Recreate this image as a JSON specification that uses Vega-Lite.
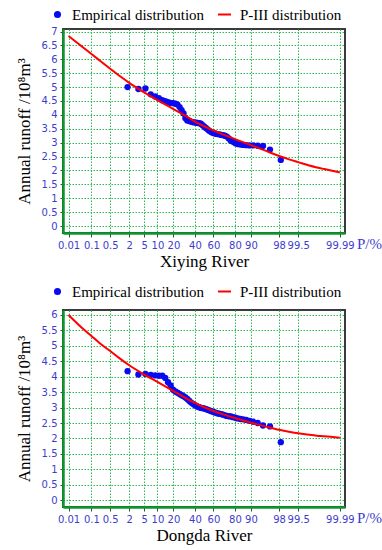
{
  "$schema": "https://vega.github.io/schema/vega-lite/v6.json",
  "background": "white",
  "padding": {"left": 14, "top": 6, "right": 2, "bottom": 4},
  "spacing": 13,
  "config": {
    "view": {"stroke": "#3a3a3a", "strokeWidth": 2},
    "axis": {
      "labelFont": "DejaVu Sans", "labelFontSize": 10, "labelColor": "#3d3dcc",
      "titleFont": "Liberation Serif", "titleFontSize": 17, "titleFontWeight": "normal", "titleColor": "#000000",
      "gridColor": "#2dbb55", "gridDash": [1.5, 1.5], "gridWidth": 1, "gridOpacity": 1,
      "domainColor": "#0a9a2a", "domainWidth": 2.5,
      "tickColor": "#444444", "tickSize": 4, "labelOverlap": false, "labelFlush": false
    },
    "legend": {
      "orient": "none", "direction": "horizontal", "title": null,
      "labelFont": "Liberation Serif", "labelFontSize": 15, "labelColor": "#000000",
      "padding": 0
    }
  },
  "resolve": {"scale": {"color": "independent", "stroke": "independent"}, "legend": {"color": "independent", "stroke": "independent"}},
  "datasets": {
    "emp_xiying": [
      {"m":1,"P":1.79,"z":-2.100,"Q":5.00},{"m":2,"P":3.57,"z":-1.803,"Q":4.93},{"m":3,"P":5.36,"z":-1.611,"Q":4.95},
      {"m":4,"P":7.14,"z":-1.466,"Q":4.74},{"m":5,"P":8.93,"z":-1.345,"Q":4.66},{"m":6,"P":10.71,"z":-1.242,"Q":4.60},
      {"m":7,"P":12.50,"z":-1.150,"Q":4.53},{"m":8,"P":14.29,"z":-1.068,"Q":4.49},{"m":9,"P":16.07,"z":-0.992,"Q":4.46},
      {"m":10,"P":17.86,"z":-0.921,"Q":4.43},{"m":11,"P":19.64,"z":-0.854,"Q":4.42},{"m":12,"P":21.43,"z":-0.792,"Q":4.40},
      {"m":13,"P":23.21,"z":-0.732,"Q":4.37},{"m":14,"P":25.00,"z":-0.674,"Q":4.28},{"m":15,"P":26.79,"z":-0.619,"Q":4.17},
      {"m":16,"P":28.57,"z":-0.566,"Q":4.05},{"m":17,"P":30.36,"z":-0.514,"Q":3.88},{"m":18,"P":32.14,"z":-0.464,"Q":3.80},
      {"m":19,"P":33.93,"z":-0.414,"Q":3.78},{"m":20,"P":35.71,"z":-0.366,"Q":3.76},{"m":21,"P":37.50,"z":-0.319,"Q":3.74},
      {"m":22,"P":39.29,"z":-0.272,"Q":3.73},{"m":23,"P":41.07,"z":-0.226,"Q":3.72},{"m":24,"P":42.86,"z":-0.180,"Q":3.71},
      {"m":25,"P":44.64,"z":-0.135,"Q":3.70},{"m":26,"P":46.43,"z":-0.090,"Q":3.68},{"m":27,"P":48.21,"z":-0.045,"Q":3.63},
      {"m":28,"P":50.00,"z":0.000,"Q":3.58},{"m":29,"P":51.79,"z":0.045,"Q":3.53},{"m":30,"P":53.57,"z":0.090,"Q":3.48},
      {"m":31,"P":55.36,"z":0.135,"Q":3.43},{"m":32,"P":57.14,"z":0.180,"Q":3.39},{"m":33,"P":58.93,"z":0.226,"Q":3.36},
      {"m":34,"P":60.71,"z":0.272,"Q":3.34},{"m":35,"P":62.50,"z":0.319,"Q":3.32},{"m":36,"P":64.29,"z":0.366,"Q":3.31},
      {"m":37,"P":66.07,"z":0.414,"Q":3.30},{"m":38,"P":67.86,"z":0.464,"Q":3.28},{"m":39,"P":69.64,"z":0.514,"Q":3.27},
      {"m":40,"P":71.43,"z":0.566,"Q":3.25},{"m":41,"P":73.21,"z":0.619,"Q":3.22},{"m":42,"P":75.00,"z":0.674,"Q":3.15},
      {"m":43,"P":76.79,"z":0.732,"Q":3.07},{"m":44,"P":78.57,"z":0.792,"Q":3.03},{"m":45,"P":80.36,"z":0.854,"Q":2.98},
      {"m":46,"P":82.14,"z":0.921,"Q":2.95},{"m":47,"P":83.93,"z":0.992,"Q":2.93},{"m":48,"P":85.71,"z":1.068,"Q":2.92},
      {"m":49,"P":87.50,"z":1.150,"Q":2.91},{"m":50,"P":89.29,"z":1.242,"Q":2.90},{"m":51,"P":91.07,"z":1.345,"Q":2.90},
      {"m":52,"P":92.86,"z":1.466,"Q":2.89},{"m":53,"P":94.64,"z":1.611,"Q":2.88},{"m":54,"P":96.43,"z":1.803,"Q":2.75},
      {"m":55,"P":98.21,"z":2.100,"Q":2.38}
    ],
    "p3_xiying": [
      {"P":0.01,"z":-3.719,"Q":6.84},{"P":0.05,"z":-3.291,"Q":6.40},{"P":0.1,"z":-3.090,"Q":6.19},
      {"P":0.2,"z":-2.878,"Q":5.97},{"P":0.5,"z":-2.576,"Q":5.66},{"P":1,"z":-2.326,"Q":5.41},
      {"P":2,"z":-2.054,"Q":5.15},{"P":5,"z":-1.645,"Q":4.81},{"P":10,"z":-1.282,"Q":4.53},
      {"P":20,"z":-0.842,"Q":4.21},{"P":30,"z":-0.524,"Q":3.97},{"P":40,"z":-0.253,"Q":3.76},
      {"P":50,"z":0.000,"Q":3.59},{"P":60,"z":0.253,"Q":3.44},{"P":70,"z":0.524,"Q":3.29},
      {"P":80,"z":0.842,"Q":3.13},{"P":90,"z":1.282,"Q":2.91},{"P":95,"z":1.645,"Q":2.73},
      {"P":98,"z":2.054,"Q":2.52},{"P":99,"z":2.326,"Q":2.40},{"P":99.5,"z":2.576,"Q":2.30},
      {"P":99.8,"z":2.878,"Q":2.18},{"P":99.9,"z":3.090,"Q":2.11},{"P":99.95,"z":3.291,"Q":2.05},
      {"P":99.99,"z":3.719,"Q":1.93}
    ],
    "emp_dongda": [
      {"m":1,"P":1.79,"z":-2.100,"Q":4.18},{"m":2,"P":3.57,"z":-1.803,"Q":4.07},{"m":3,"P":5.36,"z":-1.611,"Q":4.09},
      {"m":4,"P":7.14,"z":-1.466,"Q":4.06},{"m":5,"P":8.93,"z":-1.345,"Q":4.04},{"m":6,"P":10.71,"z":-1.242,"Q":4.03},
      {"m":7,"P":12.50,"z":-1.150,"Q":4.03},{"m":8,"P":14.29,"z":-1.068,"Q":3.96},{"m":9,"P":16.07,"z":-0.992,"Q":3.82},
      {"m":10,"P":17.86,"z":-0.921,"Q":3.72},{"m":11,"P":19.64,"z":-0.854,"Q":3.58},{"m":12,"P":21.43,"z":-0.792,"Q":3.52},
      {"m":13,"P":23.21,"z":-0.732,"Q":3.48},{"m":14,"P":25.00,"z":-0.674,"Q":3.44},{"m":15,"P":26.79,"z":-0.619,"Q":3.40},
      {"m":16,"P":28.57,"z":-0.566,"Q":3.37},{"m":17,"P":30.36,"z":-0.514,"Q":3.33},{"m":18,"P":32.14,"z":-0.464,"Q":3.28},
      {"m":19,"P":33.93,"z":-0.414,"Q":3.22},{"m":20,"P":35.71,"z":-0.366,"Q":3.17},{"m":21,"P":37.50,"z":-0.319,"Q":3.13},
      {"m":22,"P":39.29,"z":-0.272,"Q":3.09},{"m":23,"P":41.07,"z":-0.226,"Q":3.06},{"m":24,"P":42.86,"z":-0.180,"Q":3.03},
      {"m":25,"P":44.64,"z":-0.135,"Q":3.01},{"m":26,"P":46.43,"z":-0.090,"Q":2.99},{"m":27,"P":48.21,"z":-0.045,"Q":2.98},
      {"m":28,"P":50.00,"z":0.000,"Q":2.97},{"m":29,"P":51.79,"z":0.045,"Q":2.95},{"m":30,"P":53.57,"z":0.090,"Q":2.93},
      {"m":31,"P":55.36,"z":0.135,"Q":2.91},{"m":32,"P":57.14,"z":0.180,"Q":2.89},{"m":33,"P":58.93,"z":0.226,"Q":2.87},
      {"m":34,"P":60.71,"z":0.272,"Q":2.85},{"m":35,"P":62.50,"z":0.319,"Q":2.83},{"m":36,"P":64.29,"z":0.366,"Q":2.81},
      {"m":37,"P":66.07,"z":0.414,"Q":2.80},{"m":38,"P":67.86,"z":0.464,"Q":2.79},{"m":39,"P":69.64,"z":0.514,"Q":2.77},
      {"m":40,"P":71.43,"z":0.566,"Q":2.75},{"m":41,"P":73.21,"z":0.619,"Q":2.73},{"m":42,"P":75.00,"z":0.674,"Q":2.72},
      {"m":43,"P":76.79,"z":0.732,"Q":2.71},{"m":44,"P":78.57,"z":0.792,"Q":2.69},{"m":45,"P":80.36,"z":0.854,"Q":2.67},
      {"m":46,"P":82.14,"z":0.921,"Q":2.65},{"m":47,"P":83.93,"z":0.992,"Q":2.63},{"m":48,"P":85.71,"z":1.068,"Q":2.62},
      {"m":49,"P":87.50,"z":1.150,"Q":2.60},{"m":50,"P":89.29,"z":1.242,"Q":2.57},{"m":51,"P":91.07,"z":1.345,"Q":2.54},
      {"m":52,"P":92.86,"z":1.466,"Q":2.50},{"m":53,"P":94.64,"z":1.611,"Q":2.42},{"m":54,"P":96.43,"z":1.803,"Q":2.39},
      {"m":55,"P":98.21,"z":2.100,"Q":1.88}
    ],
    "p3_dongda": [
      {"P":0.01,"z":-3.719,"Q":6.00},{"P":0.05,"z":-3.291,"Q":5.52},{"P":0.1,"z":-3.090,"Q":5.32},
      {"P":0.2,"z":-2.878,"Q":5.10},{"P":0.5,"z":-2.576,"Q":4.83},{"P":1,"z":-2.326,"Q":4.60},
      {"P":2,"z":-2.054,"Q":4.37},{"P":5,"z":-1.645,"Q":4.07},{"P":10,"z":-1.282,"Q":3.83},
      {"P":20,"z":-0.842,"Q":3.53},{"P":30,"z":-0.524,"Q":3.32},{"P":40,"z":-0.253,"Q":3.15},
      {"P":50,"z":0.000,"Q":3.01},{"P":60,"z":0.253,"Q":2.89},{"P":70,"z":0.524,"Q":2.78},
      {"P":80,"z":0.842,"Q":2.66},{"P":90,"z":1.282,"Q":2.51},{"P":95,"z":1.645,"Q":2.40},
      {"P":98,"z":2.054,"Q":2.28},{"P":99,"z":2.326,"Q":2.22},{"P":99.5,"z":2.576,"Q":2.17},
      {"P":99.8,"z":2.878,"Q":2.12},{"P":99.9,"z":3.090,"Q":2.09},{"P":99.95,"z":3.291,"Q":2.07},
      {"P":99.99,"z":3.719,"Q":2.02}
    ],
    "plabel": [{"t": "P/%"}]
  },
  "vconcat": [
    {
      "width": 282, "height": 204,
      "layer": [
        {
          "encoding": {
            "x": {"field": "z", "type": "quantitative", "title": "Xiying River",
              "scale": {"domain": [-3.87, 3.86], "nice": false, "zero": false},
              "axis": {"values": [-3.719,-3.090,-2.576,-2.054,-1.645,-1.282,-0.842,-0.253,0.253,0.842,1.282,2.054,2.576,3.719],
                "labelExpr": "datum.value < -3.4 ? '0.01' : datum.value < -2.8 ? '0.1' : datum.value < -2.3 ? '0.5' : datum.value < -1.8 ? '2' : datum.value < -1.4 ? '5' : datum.value < -1 ? '10' : datum.value < -0.5 ? '20' : datum.value < 0 ? '40' : datum.value < 0.5 ? '60' : datum.value < 1 ? '80' : datum.value < 1.6 ? '90' : datum.value < 2.3 ? '98' : datum.value < 3 ? '99.5' : '99.99'",
                "labelOverlap": false, "labelPadding": 3, "titlePadding": 3}},
            "y": {"field": "Q", "type": "quantitative", "title": "Annual runoff /10⁸m³",
              "scale": {"domain": [-0.25, 7.09], "nice": false, "zero": false},
              "axis": {"values": [0,0.5,1,1.5,2,2.5,3,3.5,4,4.5,5,5.5,6,6.5,7], "format": ".1~f", "labelOverlap": false, "tickSize": 3, "labelPadding": 3, "titlePadding": 8}}
          },
          "layer": [
            {"data": {"name": "emp_xiying"},
             "mark": {"type": "point", "filled": true, "size": 40, "opacity": 1},
             "encoding": {
              "color": {"datum": "Empirical distribution", "type": "nominal",
               "scale": {"domain": ["Empirical distribution"], "range": ["#0a0af0"]},
               "legend": {"orient": "none", "legendX": -13, "legendY": -22, "symbolSize": 50, "labelOffset": 7, "symbolOpacity": 1}}}},
            {"data": {"name": "p3_xiying"},
             "mark": {"type": "line", "strokeWidth": 2, "interpolate": "monotone"},
             "encoding": {
              "stroke": {"datum": "P-III distribution", "type": "nominal",
               "scale": {"domain": ["P-III distribution"], "range": ["#ff0000"]},
               "legend": {"orient": "none", "legendX": 154, "legendY": -22, "symbolSize": 169, "symbolStrokeWidth": 2, "labelOffset": 8}}}}
          ]
        },
        {"data": {"name": "plabel"},
         "mark": {"type": "text", "align": "left", "baseline": "middle", "dx": 12, "dy": 11, "font": "Liberation Serif", "fontSize": 15, "fill": "#3d3dcc", "clip": false},
         "encoding": {
           "x": {"datum": 3.86, "type": "quantitative", "title": "Xiying River",
              "axis": {"values": [-3.719,-3.090,-2.576,-2.054,-1.645,-1.282,-0.842,-0.253,0.253,0.842,1.282,2.054,2.576,3.719],
                "labelExpr": "datum.value < -3.4 ? '0.01' : datum.value < -2.8 ? '0.1' : datum.value < -2.3 ? '0.5' : datum.value < -1.8 ? '2' : datum.value < -1.4 ? '5' : datum.value < -1 ? '10' : datum.value < -0.5 ? '20' : datum.value < 0 ? '40' : datum.value < 0.5 ? '60' : datum.value < 1 ? '80' : datum.value < 1.6 ? '90' : datum.value < 2.3 ? '98' : datum.value < 3 ? '99.5' : '99.99'",
                "labelOverlap": false, "labelPadding": 3, "titlePadding": 3}},
           "y": {"datum": -0.25, "type": "quantitative", "title": "Annual runoff /10⁸m³",
              "axis": {"values": [0,0.5,1,1.5,2,2.5,3,3.5,4,4.5,5,5.5,6,6.5,7], "format": ".1~f", "labelOverlap": false, "tickSize": 3, "labelPadding": 3, "titlePadding": 8}},
           "text": {"field": "t", "type": "nominal"}}}
      ]
    },
    {
      "width": 282, "height": 197,
      "layer": [
        {
          "encoding": {
            "x": {"field": "z", "type": "quantitative", "title": "Dongda River",
              "scale": {"domain": [-3.87, 3.86], "nice": false, "zero": false},
              "axis": {"values": [-3.719,-3.090,-2.576,-2.054,-1.645,-1.282,-0.842,-0.253,0.253,0.842,1.282,2.054,2.576,3.719],
                "labelExpr": "datum.value < -3.4 ? '0.01' : datum.value < -2.8 ? '0.1' : datum.value < -2.3 ? '0.5' : datum.value < -1.8 ? '2' : datum.value < -1.4 ? '5' : datum.value < -1 ? '10' : datum.value < -0.5 ? '20' : datum.value < 0 ? '40' : datum.value < 0.5 ? '60' : datum.value < 1 ? '80' : datum.value < 1.6 ? '90' : datum.value < 2.3 ? '98' : datum.value < 3 ? '99.5' : '99.99'",
                "labelOverlap": false, "labelPadding": 3, "titlePadding": 3}},
            "y": {"field": "Q", "type": "quantitative", "title": "Annual runoff /10⁸m³",
              "scale": {"domain": [-0.22, 6.16], "nice": false, "zero": false},
              "axis": {"values": [0,0.5,1,1.5,2,2.5,3,3.5,4,4.5,5,5.5,6], "format": ".1~f", "labelOverlap": false, "tickSize": 3, "labelPadding": 3, "titlePadding": 8}}
          },
          "layer": [
            {"data": {"name": "emp_dongda"},
             "mark": {"type": "point", "filled": true, "size": 40, "opacity": 1},
             "encoding": {
              "color": {"datum": "Empirical distribution", "type": "nominal",
               "scale": {"domain": ["Empirical distribution"], "range": ["#0a0af0"]},
               "legend": {"orient": "none", "legendX": -13, "legendY": -26, "symbolSize": 50, "labelOffset": 7, "symbolOpacity": 1}}}},
            {"data": {"name": "p3_dongda"},
             "mark": {"type": "line", "strokeWidth": 2, "interpolate": "monotone"},
             "encoding": {
              "stroke": {"datum": "P-III distribution", "type": "nominal",
               "scale": {"domain": ["P-III distribution"], "range": ["#ff0000"]},
               "legend": {"orient": "none", "legendX": 154, "legendY": -26, "symbolSize": 169, "symbolStrokeWidth": 2, "labelOffset": 8}}}}
          ]
        },
        {"data": {"name": "plabel"},
         "mark": {"type": "text", "align": "left", "baseline": "middle", "dx": 12, "dy": 11, "font": "Liberation Serif", "fontSize": 15, "fill": "#3d3dcc", "clip": false},
         "encoding": {
           "x": {"datum": 3.86, "type": "quantitative", "title": "Dongda River",
              "axis": {"values": [-3.719,-3.090,-2.576,-2.054,-1.645,-1.282,-0.842,-0.253,0.253,0.842,1.282,2.054,2.576,3.719],
                "labelExpr": "datum.value < -3.4 ? '0.01' : datum.value < -2.8 ? '0.1' : datum.value < -2.3 ? '0.5' : datum.value < -1.8 ? '2' : datum.value < -1.4 ? '5' : datum.value < -1 ? '10' : datum.value < -0.5 ? '20' : datum.value < 0 ? '40' : datum.value < 0.5 ? '60' : datum.value < 1 ? '80' : datum.value < 1.6 ? '90' : datum.value < 2.3 ? '98' : datum.value < 3 ? '99.5' : '99.99'",
                "labelOverlap": false, "labelPadding": 3, "titlePadding": 3}},
           "y": {"datum": -0.22, "type": "quantitative", "title": "Annual runoff /10⁸m³",
              "axis": {"values": [0,0.5,1,1.5,2,2.5,3,3.5,4,4.5,5,5.5,6], "format": ".1~f", "labelOverlap": false, "tickSize": 3, "labelPadding": 3, "titlePadding": 8}},
           "text": {"field": "t", "type": "nominal"}}}
      ]
    }
  ]
}
